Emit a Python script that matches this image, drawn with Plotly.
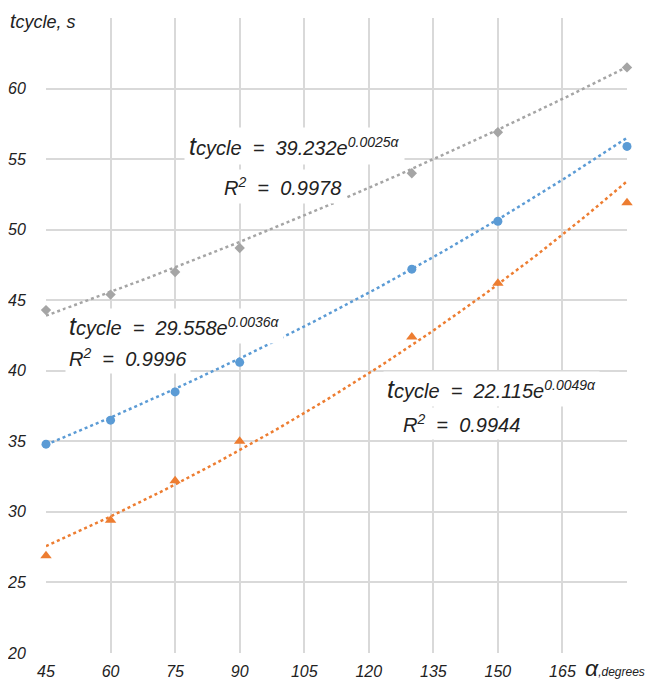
import numpy as np
import plotly.graph_objects as go

# ---- data ----
angles = [45, 60, 75, 90, 130, 150, 180]
t_gray = [44.3, 45.4, 47.0, 48.7, 54.0, 56.9, 61.5]
t_blue = [34.8, 36.5, 38.5, 40.6, 47.2, 50.6, 55.9]
t_orange = [26.9, 29.4, 32.2, 35.0, 42.4, 46.2, 51.9]

fit_a = [39.232, 29.558, 22.115]
fit_b = [0.0025, 0.0036, 0.0049]
fit_r2 = ["0.9978", "0.9996", "0.9944"]

x_ticks = [45, 60, 75, 90, 105, 120, 135, 150, 165, 180]
y_ticks = [20, 25, 30, 35, 40, 45, 50, 55, 60, 65]

colors = ["#A5A5A5", "#5B9BD5", "#ED7D31"]
symbols = ["diamond", "circle", "triangle-up"]
msizes = [8, 9, 10]
series = [t_gray, t_blue, t_orange]

# page has an 8px body margin: figure drawn at offset (8, 8)
OFF = 8
W, H = 654 - OFF, 679 - OFF
# plot area in window pixels: left 46, right 627, top 18, bottom 653
L, T = 46 - OFF, 18 - OFF
R = (OFF + W) - 627
B = (OFF + H) - 653
PW, PH = W - L - R, H - T - B

def px(xp):  # window pixel -> paper x
    return (xp - 46) / PW

def py(yp):  # window pixel -> paper y
    return (653 - yp) / PH

FONT = "Liberation Sans"
fig = go.Figure()

xs = np.linspace(min(angles), max(angles), 200)
for i in range(3):
    fig.add_trace(go.Scatter(
        x=xs, y=fit_a[i] * np.exp(fit_b[i] * xs), mode="lines",
        line=dict(color=colors[i], width=2.5, dash="dot"),
        hoverinfo="skip", showlegend=False, cliponaxis=False))
    fig.add_trace(go.Scatter(
        x=angles, y=series[i], mode="markers",
        marker=dict(color=colors[i], symbol=symbols[i], size=msizes[i]),
        showlegend=False, cliponaxis=False))

fig.update_xaxes(range=[45, 180], tickvals=x_ticks,
                 ticktext=[str(v) if v != 180 else "" for v in x_ticks],
                 showgrid=True, gridcolor="#D9D9D9", gridwidth=1.5,
                 zeroline=False, showline=False, ticklabelstandoff=7,
                 automargin=False,
                 tickfont=dict(family=FONT, size=16, color="#222", style="italic"))
fig.update_yaxes(range=[20, 65], tickvals=y_ticks,
                 ticktext=[str(v) if v != 65 else "" for v in y_ticks],
                 showgrid=True, gridcolor="#D9D9D9", gridwidth=1.5,
                 zeroline=False, showline=False,
                 ticks="outside", ticklen=16, tickcolor="rgba(0,0,0,0)",
                 automargin=False,
                 tickfont=dict(family=FONT, size=16, color="#222", style="italic"))

def eq(a, b):
    return ("<span style='font-size:25px'>t</span>cycle&nbsp; = &nbsp;" + f"{a}e<sup>{b}α</sup>")

ann = []
# axis titles
ann.append(dict(xref="paper", yref="paper", x=px(8), y=py(2), xanchor="left", yanchor="top",
                text="<span style='font-size:20px'>t</span>cycle, s", showarrow=False,
                bgcolor="white", width=87, height=34, align="left", valign="middle",
                font=dict(family=FONT, size=18, color="#222", style="italic")))
ann.append(dict(xref="paper", yref="paper", x=px(583), y=py(668), xanchor="left", yanchor="middle",
                text="<span style='font-size:23px'>α</span>,degrees", showarrow=False,
                font=dict(family=FONT, size=12, color="#222", style="italic")))

eq_font = dict(family=FONT, size=20, color="#222", style="italic")
# gray
ann.append(dict(xref="paper", yref="paper", x=px(294), y=py(146), xanchor="center", yanchor="middle",
                text=eq("39.232", "0.0025"), showarrow=False, bgcolor="white", borderpad=4, font=eq_font))
ann.append(dict(xref="paper", yref="paper", x=px(282), y=py(186), xanchor="center", yanchor="middle",
                text="R<sup>2</sup>&nbsp; = &nbsp;" + fit_r2[0], showarrow=False, bgcolor="white", borderpad=4, font=eq_font))
# blue
ann.append(dict(xref="paper", yref="paper", x=px(65), y=py(326), xanchor="left", yanchor="middle",
                text=eq("29.558", "0.0036"), showarrow=False, bgcolor="white", borderpad=3, font=eq_font))
ann.append(dict(xref="paper", yref="paper", x=px(65), y=py(358), xanchor="left", yanchor="middle",
                text="R<sup>2</sup>&nbsp; = &nbsp;" + fit_r2[1], showarrow=False, bgcolor="white", borderpad=3, font=eq_font))
# orange
ann.append(dict(xref="paper", yref="paper", x=px(383), y=py(389), xanchor="left", yanchor="middle",
                text=eq("22.115", "0.0049"), showarrow=False, bgcolor="white", borderpad=3, font=eq_font))
ann.append(dict(xref="paper", yref="paper", x=px(399), y=py(423), xanchor="left", yanchor="middle",
                text="R<sup>2</sup>&nbsp; = &nbsp;" + fit_r2[2], showarrow=False, bgcolor="white", borderpad=3, font=eq_font))

fig.update_layout(width=W, height=H, margin=dict(l=L, r=R, t=T, b=B),
                  plot_bgcolor="white", paper_bgcolor="white",
                  annotations=ann, showlegend=False)

fig.write_html("out.html")
